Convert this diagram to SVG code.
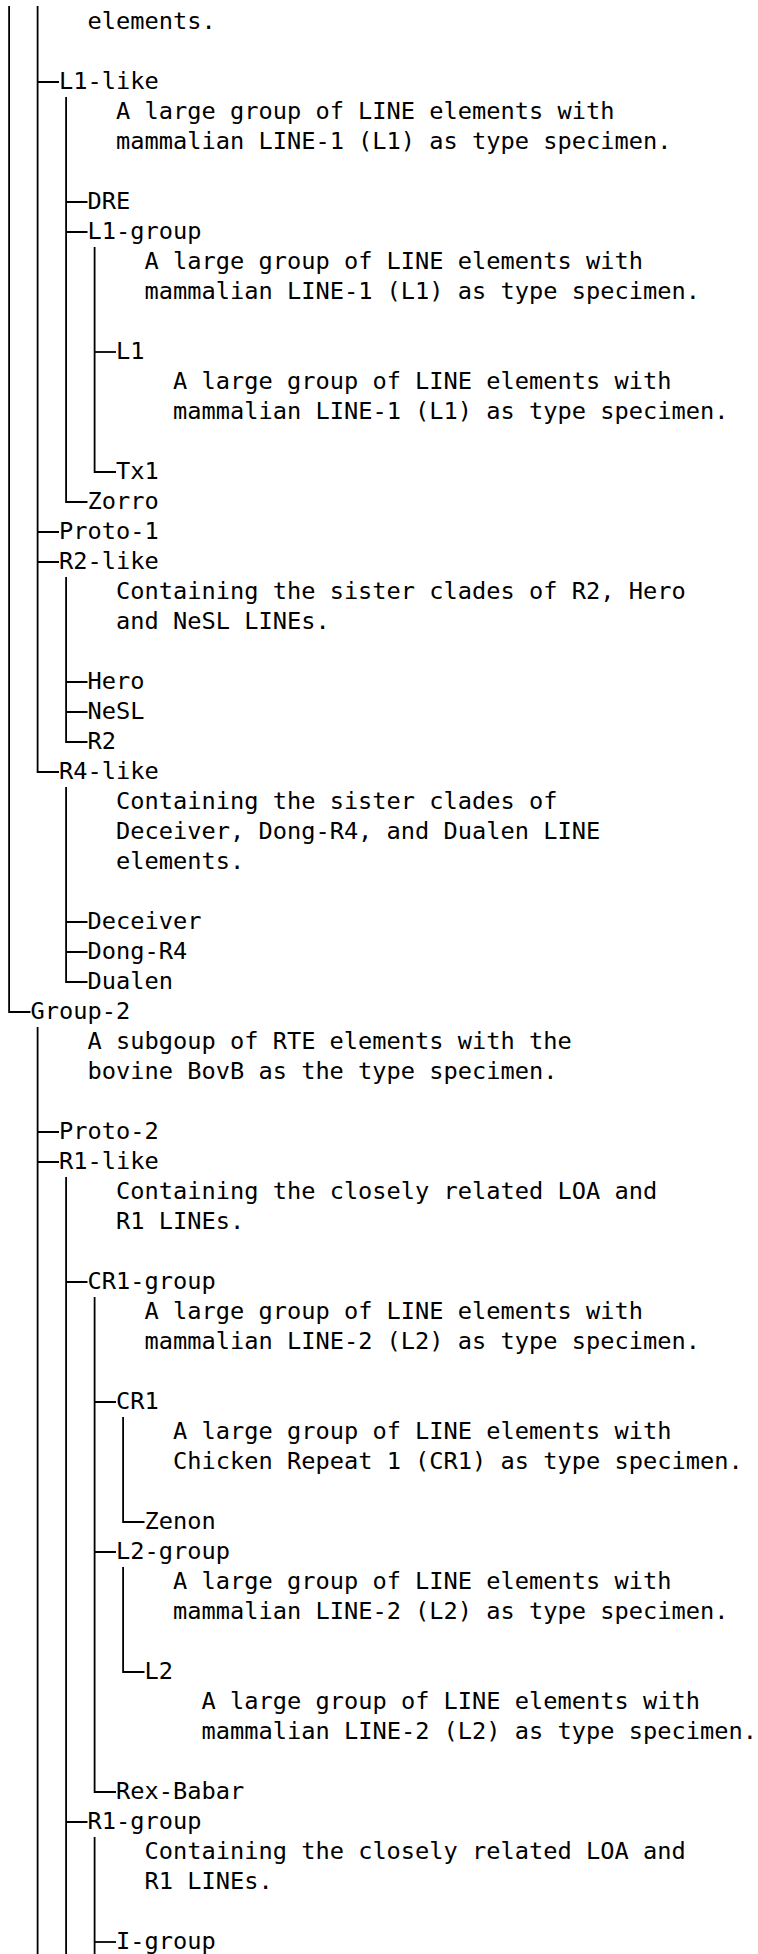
<svg xmlns="http://www.w3.org/2000/svg" width="758" height="1954" viewBox="0 0 758 1954">
<style>
.t{font-family:"DejaVu Sans Mono","Liberation Mono",monospace;font-size:23.67px;fill:#000}
.c{stroke:#000;stroke-width:1.8;fill:none}
</style>
<rect width="758" height="1954" fill="#fff"/>
<g id="connectors" class="c">
<path d="M9.1,6V1012H30.5"/>
<path d="M37.6,6V772H59"/>
<path d="M37.6,82H59M37.6,532H59M37.6,562H59"/>
<path d="M66.1,97V502H87.5"/>
<path d="M66.1,202H87.5M66.1,232H87.5"/>
<path d="M94.6,247V472H116"/>
<path d="M94.6,352H116"/>
<path d="M66.1,577V742H87.5"/>
<path d="M66.1,682H87.5M66.1,712H87.5"/>
<path d="M66.1,787V982H87.5"/>
<path d="M66.1,922H87.5M66.1,952H87.5"/>
<path d="M37.6,1027V1954"/>
<path d="M37.6,1132H59M37.6,1162H59"/>
<path d="M66.1,1177V1954"/>
<path d="M66.1,1282H87.5M66.1,1822H87.5"/>
<path d="M94.6,1297V1792H116"/>
<path d="M94.6,1402H116M94.6,1552H116"/>
<path d="M123.1,1417V1522H144.5"/>
<path d="M123.1,1567V1672H144.5"/>
<path d="M94.6,1837V1954"/>
<path d="M94.6,1942H116"/>
</g>
<g id="group-1-desc" class="t"><text x="87.5" y="29.3">elements.</text></g>
<g id="l1-like" class="t"><text x="59" y="89.3">L1-like</text><text x="116" y="119.3">A large group of LINE elements with</text><text x="116" y="149.3">mammalian LINE-1 (L1) as type specimen.</text></g>
<g id="dre" class="t"><text x="87.5" y="209.3">DRE</text></g>
<g id="l1-group" class="t"><text x="87.5" y="239.3">L1-group</text><text x="144.5" y="269.3">A large group of LINE elements with</text><text x="144.5" y="299.3">mammalian LINE-1 (L1) as type specimen.</text></g>
<g id="l1" class="t"><text x="116" y="359.3">L1</text><text x="173" y="389.3">A large group of LINE elements with</text><text x="173" y="419.3">mammalian LINE-1 (L1) as type specimen.</text></g>
<g id="tx1" class="t"><text x="116" y="479.3">Tx1</text></g>
<g id="zorro" class="t"><text x="87.5" y="509.3">Zorro</text></g>
<g id="proto-1" class="t"><text x="59" y="539.3">Proto-1</text></g>
<g id="r2-like" class="t"><text x="59" y="569.3">R2-like</text><text x="116" y="599.3">Containing the sister clades of R2, Hero</text><text x="116" y="629.3">and NeSL LINEs.</text></g>
<g id="hero" class="t"><text x="87.5" y="689.3">Hero</text></g>
<g id="nesl" class="t"><text x="87.5" y="719.3">NeSL</text></g>
<g id="r2" class="t"><text x="87.5" y="749.3">R2</text></g>
<g id="r4-like" class="t"><text x="59" y="779.3">R4-like</text><text x="116" y="809.3">Containing the sister clades of</text><text x="116" y="839.3">Deceiver, Dong-R4, and Dualen LINE</text><text x="116" y="869.3">elements.</text></g>
<g id="deceiver" class="t"><text x="87.5" y="929.3">Deceiver</text></g>
<g id="dong-r4" class="t"><text x="87.5" y="959.3">Dong-R4</text></g>
<g id="dualen" class="t"><text x="87.5" y="989.3">Dualen</text></g>
<g id="group-2" class="t"><text x="30.5" y="1019.3">Group-2</text><text x="87.5" y="1049.3">A subgoup of RTE elements with the</text><text x="87.5" y="1079.3">bovine BovB as the type specimen.</text></g>
<g id="proto-2" class="t"><text x="59" y="1139.3">Proto-2</text></g>
<g id="r1-like" class="t"><text x="59" y="1169.3">R1-like</text><text x="116" y="1199.3">Containing the closely related LOA and</text><text x="116" y="1229.3">R1 LINEs.</text></g>
<g id="cr1-group" class="t"><text x="87.5" y="1289.3">CR1-group</text><text x="144.5" y="1319.3">A large group of LINE elements with</text><text x="144.5" y="1349.3">mammalian LINE-2 (L2) as type specimen.</text></g>
<g id="cr1" class="t"><text x="116" y="1409.3">CR1</text><text x="173" y="1439.3">A large group of LINE elements with</text><text x="173" y="1469.3">Chicken Repeat 1 (CR1) as type specimen.</text></g>
<g id="zenon" class="t"><text x="144.5" y="1529.3">Zenon</text></g>
<g id="l2-group" class="t"><text x="116" y="1559.3">L2-group</text><text x="173" y="1589.3">A large group of LINE elements with</text><text x="173" y="1619.3">mammalian LINE-2 (L2) as type specimen.</text></g>
<g id="l2" class="t"><text x="144.5" y="1679.3">L2</text><text x="201.5" y="1709.3">A large group of LINE elements with</text><text x="201.5" y="1739.3">mammalian LINE-2 (L2) as type specimen.</text></g>
<g id="rex-babar" class="t"><text x="116" y="1799.3">Rex-Babar</text></g>
<g id="r1-group" class="t"><text x="87.5" y="1829.3">R1-group</text><text x="144.5" y="1859.3">Containing the closely related LOA and</text><text x="144.5" y="1889.3">R1 LINEs.</text></g>
<g id="i-group" class="t"><text x="116" y="1949.3">I-group</text></g>
</svg>
